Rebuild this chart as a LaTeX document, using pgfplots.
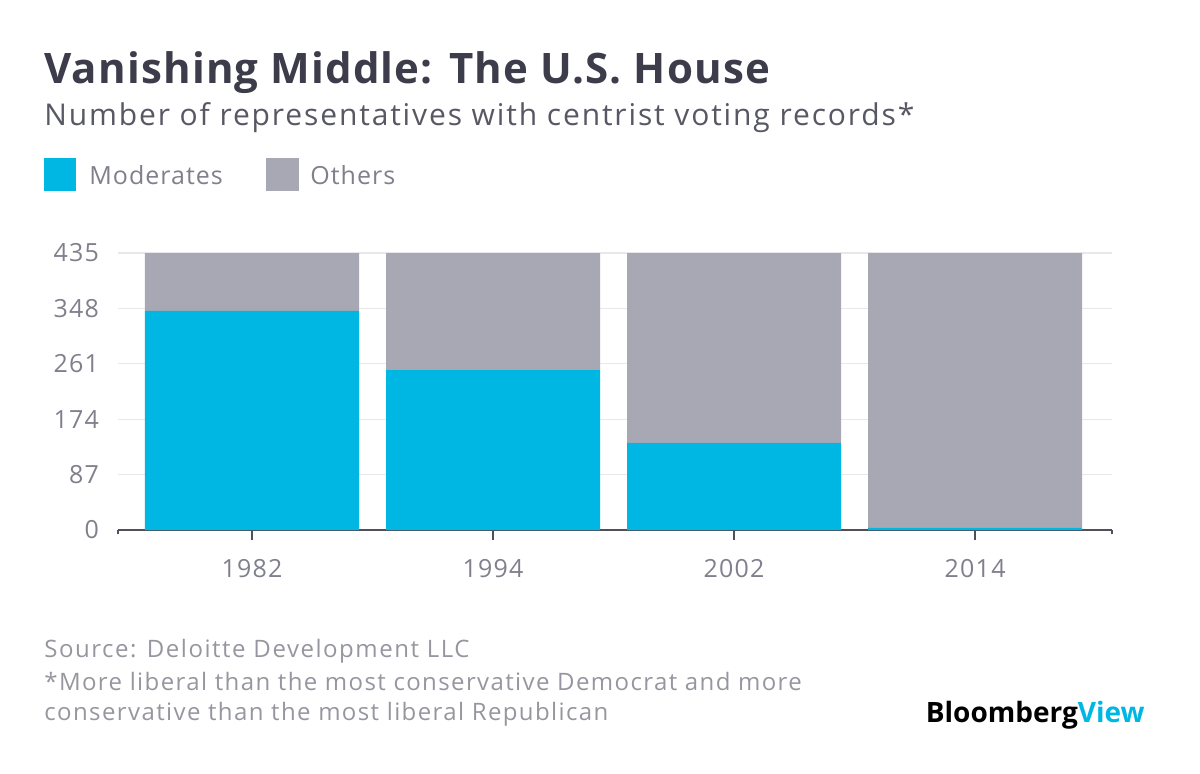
\documentclass[border=0pt]{standalone}
\usepackage{fontspec}
\setmainfont{Open Sans}
\usepackage{pgfplots}
\pgfplotsset{compat=1.18}
\definecolor{cyanbar}{RGB}{0,183,228}
\definecolor{graybar}{RGB}{168,168,180}
\definecolor{titlec}{RGB}{60,60,74}
\definecolor{subc}{RGB}{88,88,100}
\definecolor{tickc}{RGB}{128,128,140}
\definecolor{footc}{RGB}{150,150,160}
\definecolor{gridc}{RGB}{232,232,236}
\definecolor{axisc}{RGB}{80,80,90}
\newcommand{\ls}[1]{\addfontfeature{LetterSpace=#1}}
\begin{document}
\begin{tikzpicture}
\path[use as bounding box] (0pt,0pt) rectangle (600pt,-386.5pt);
\begin{axis}[
  at={(59pt,-265pt)}, anchor=south west,
  scale only axis, width=497pt, height=138.5pt,
  ybar stacked, bar width=0.888,
  xmin=-0.556, xmax=3.568, ymin=0, ymax=435,
  xtick={0,1,2,3}, xticklabels={1982,1994,2002,2014},
  extra x ticks={-0.556,3.568}, extra x tick labels={},
  extra x tick style={major tick length=2pt, grid=none},
  ytick={0,87,174,261,348,435},
  axis x line*=bottom, axis y line*=left,
  x axis line style={draw=axisc, line width=0.8pt, -},
  y axis line style={draw=none},
  xtick style={draw=axisc, line width=0.8pt},
  xtick pos=bottom, xtick align=outside, major tick length=5pt,
  ymajorgrids, grid style={draw=gridc, line width=0.6pt},
  ytick style={draw=none},
  yticklabel style={font=\fontsize{12.5}{12.5}\selectfont\ls{5}, text=tickc, anchor=east, xshift=-6pt, /pgf/number format/assume math mode=true},
  xticklabel style={font=\fontsize{12.5}{12.5}\selectfont\ls{5}, text=tickc, yshift=-6pt, /pgf/number format/assume math mode=true},
  clip=false,
]
\addplot[fill=cyanbar, draw=none] coordinates {(0,344) (1,251) (2,137) (3,4)};
\addplot[fill=graybar, draw=none] coordinates {(0,91) (1,184) (2,298) (3,431)};
\end{axis}
\node[anchor=base west, inner sep=0pt, text=titlec, font=\fontsize{21}{21}\selectfont\bfseries\ls{2.8}] at (22pt,-41.5pt) {Vanishing Middle: The U.S. House};
\node[anchor=base west, inner sep=0pt, text=subc, font=\fontsize{15}{15}\selectfont\ls{6.2}] at (22pt,-62.5pt) {Number of representatives with centrist voting records*};
\fill[cyanbar] (22pt,-79pt) rectangle (38pt,-95.5pt);
\node[anchor=base west, inner sep=0pt, text=tickc, font=\fontsize{12.5}{12.5}\selectfont\ls{4}] at (44.5pt,-92pt) {Moderates};
\fill[graybar] (133pt,-79pt) rectangle (149.5pt,-95.5pt);
\node[anchor=base west, inner sep=0pt, text=tickc, font=\fontsize{12.5}{12.5}\selectfont\ls{4}] at (155pt,-92pt) {Others};
\node[anchor=base west, inner sep=0pt, text=footc, font=\fontsize{12}{12}\selectfont\ls{6.4}] at (22pt,-328.5pt) {Source: Deloitte Development LLC};
\node[anchor=base west, inner sep=0pt, text=footc, font=\fontsize{12}{12}\selectfont\ls{5.8}] at (22pt,-345pt) {*More liberal than the most conservative Democrat and more};
\node[anchor=base west, inner sep=0pt, text=footc, font=\fontsize{12}{12}\selectfont\ls{5.8}] at (22pt,-360pt) {conservative than the most liberal Republican};
\node[anchor=base east, inner sep=0pt, font=\fontsize{14}{14}\selectfont\bfseries] at (572.5pt,-361pt) {\textcolor{black}{Bloomberg}\textcolor{cyanbar}{View}};
\end{tikzpicture}
\end{document}
